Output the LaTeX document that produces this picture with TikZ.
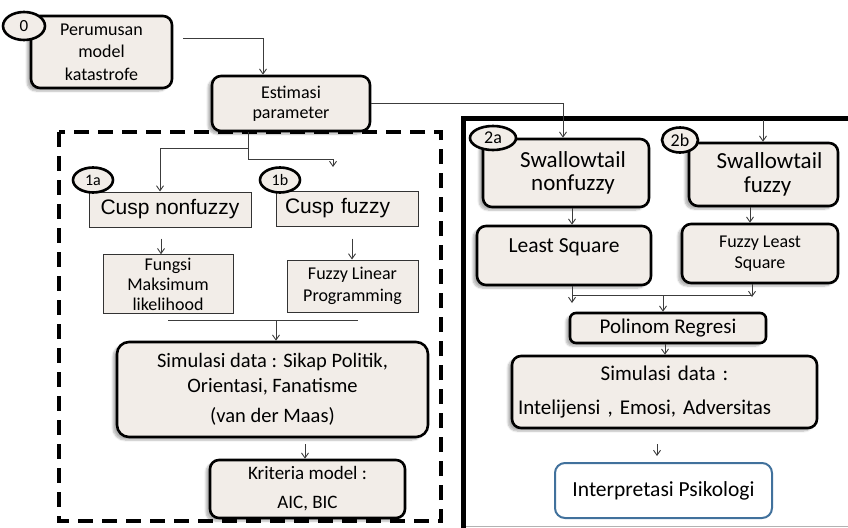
\documentclass[tikz,border=0pt]{standalone}
\usepackage{fontspec}
\setmainfont{Carlito}
\newfontfamily\arialfont{Liberation Sans}
\usetikzlibrary{arrows.meta,shapes.geometric,shadows.blur}
\definecolor{krem}{RGB}{242,237,232}
\definecolor{birupsi}{RGB}{65,113,156}
\definecolor{garis}{RGB}{60,60,60}
\tikzset{
  kotak/.style={draw=black,line width=2.6pt,rounded corners=9pt,fill=krem,align=center,inner sep=3pt,
    blur shadow={shadow xshift=-4pt,shadow yshift=-3pt,shadow opacity=30,shadow blur steps=6}},
  kotaktipis/.style={draw=black!80,line width=1pt,fill=krem,align=center,inner sep=3pt},
  nomor/.style={ellipse,draw=black,line width=2.6pt,fill=krem,inner sep=0pt},
  panah/.style={draw=garis,line width=0.9pt,-{Straight Barb[length=5pt,width=7pt]}},
  garisbiasa/.style={draw=garis,line width=0.9pt}
}
\begin{document}
\begin{tikzpicture}[x=1pt,y=-1pt]
\useasboundingbox (0,0) rectangle (848,527);
\draw[line width=4.5pt,dash pattern=on 15pt off 9pt] (59,132) rectangle (441,521);
\draw[line width=5pt] (463,532) -- (463,118) -- (854,118);
\draw[black!30,line width=0.6pt] (466,526) -- (848,526);

\node[kotak,minimum width=141pt,minimum height=72pt,font=\fontsize{18}{22.5}\selectfont] (perumusan) at (101.5,52) {Perumusan\\model\\katastrofe};
\node[kotak,minimum width=158pt,minimum height=55pt,font=\fontsize{18}{20.5}\selectfont] (estimasi) at (291,103.5) {Estimasi\\parameter};

\node[kotaktipis,minimum width=162pt,minimum height=35pt,font=\arialfont\fontsize{21}{24}\selectfont] (cuspnf) at (170,209.5) {Cusp nonfuzzy};
\node[kotaktipis,text width=124pt,inner xsep=9pt,align=left,minimum height=35pt,font=\arialfont\fontsize{21}{24}\selectfont] (cuspf) at (347,208.5) {Cusp fuzzy};
\node[kotaktipis,minimum width=130pt,minimum height=58pt,font=\fontsize{18}{20}\selectfont] (fungsi) at (168,284) {Fungsi\\Maksimum\\likelihood};
\node[kotaktipis,minimum width=131pt,minimum height=52pt,font=\fontsize{18}{22}\selectfont] (fuzzylp) at (352.5,286) {Fuzzy Linear\\Programming};
\node[kotak,rounded corners=12pt,minimum width=311pt,minimum height=95pt,font=\fontsize{20.5}{25}\selectfont] (simkiri) at (272.5,389.5) {Simulasi data : Sikap Politik,\\Orientasi, Fanatisme\\[5pt](van der Maas)};
\node[kotak,minimum width=195pt,minimum height=58pt,font=\fontsize{19}{29}\selectfont] (kriteria) at (307.5,489) {Kriteria model :\\AIC, BIC};

\node[kotak,minimum width=166pt,minimum height=68pt,font=\fontsize{23}{23.5}\selectfont] (swnf) at (566,173) {\hspace*{14pt}Swallowtail\\\hspace*{14pt}nonfuzzy};
\node[kotak,minimum width=149pt,minimum height=63pt,font=\fontsize{23}{23.5}\selectfont] (swf) at (763.5,174.5) {\hspace*{12pt}Swallowtail\\\hspace*{8pt}fuzzy};
\node[kotak,minimum width=174pt,minimum height=59pt,text depth=19pt,font=\fontsize{21.5}{24}\selectfont] (lsq) at (564,255.5) {Least Square};
\node[kotak,minimum width=156pt,minimum height=59pt,font=\fontsize{18}{21}\selectfont] (flsq) at (760,253.5) {Fuzzy Least\\Square};
\node[kotak,rounded corners=6pt,minimum width=196pt,minimum height=30pt,font=\fontsize{21}{24}\selectfont] (polinom) at (668,328) {Polinom Regresi};
\node[kotak,text width=293pt,inner xsep=6pt,align=left,minimum height=72pt,font=\fontsize{21}{34}\selectfont] (simkanan) at (664.5,392) {\makebox[293pt][c]{Simulasi data :}\\Intelijensi , Emosi, Adversitas};
\node[draw=birupsi,line width=2pt,rounded corners=10pt,fill=white,minimum width=217pt,minimum height=55pt,font=\fontsize{21.5}{24}\selectfont] (interp) at (663.5,490.5) {Interpretasi Psikologi};

\node[nomor,minimum width=42pt,minimum height=28pt,font=\fontsize{17}{20}\selectfont] (no0) at (24,26) {0};
\node[nomor,minimum width=40pt,minimum height=25pt,font=\fontsize{16}{19}\selectfont] (no1a) at (93,180) {1a};
\node[nomor,minimum width=40pt,minimum height=25pt,font=\fontsize{16}{19}\selectfont] (no1b) at (280,180) {1b};
\node[nomor,minimum width=46pt,minimum height=24pt,font=\fontsize{18}{20}\selectfont] (no2a) at (493,138) {2a};
\node[nomor,minimum width=36pt,minimum height=25pt,font=\fontsize{18}{20}\selectfont] (no2b) at (680,140) {2b};

\coordinate (cabang) at ([xshift=-43pt]estimasi.south);
\coordinate (ujung1b) at (333,167);
\coordinate (temukiri) at (276,320);
\coordinate (atas2b) at (763,120);
\coordinate (temukanan) at (663,295);
\coordinate (ujungls) at (572,303);
\coordinate (ujungfls) at (752,297);

\draw[panah,shorten <=10pt] ([yshift=14pt]perumusan.east) -| ([xshift=-28pt]estimasi.north);
\draw[panah] (estimasi.east) -| ([xshift=-3pt]swnf.north);
\draw[panah] (cabang) -- ++(0,16) -| ([xshift=-10pt]cuspnf.north);
\draw[panah] (cabang) -- ++(0,27) -| (ujung1b);
\draw[panah,shorten <=11pt] ([xshift=-9pt]cuspnf.south) -- ([xshift=-9pt]cuspnf.south |- fungsi.north);
\draw[panah,shorten <=12pt] ([xshift=5pt]cuspf.south) -- ([xshift=5pt]cuspf.south |- fuzzylp.north);
\draw[garisbiasa] (fungsi.south |- temukiri) -- ([xshift=5pt]fuzzylp.south |- temukiri);
\draw[panah] (temukiri) -- (temukiri |- simkiri.north);
\draw[panah,shorten <=6pt] ([xshift=-2.5pt]kriteria.north |- simkiri.south) -- ([xshift=-2.5pt]kriteria.north);

\draw[panah] (atas2b) -- (atas2b |- swf.north);
\draw[panah] ([xshift=6pt]swnf.south) -- ([xshift=6pt]swnf.south |- lsq.north);
\draw[panah] ([xshift=-13.5pt]swf.south) -- ([xshift=-13.5pt]swf.south |- flsq.north);
\draw[panah] (lsq.south -| ujungls) -- (ujungls);
\draw[panah] (flsq.south -| ujungfls) -- (ujungfls);
\draw[garisbiasa] (temukanan -| ujungls) -- (temukanan -| ujungfls);
\draw[panah] (temukanan) -- (temukanan |- polinom.north);
\draw[panah] ([xshift=-3pt]polinom.south) -- ([xshift=-3pt]polinom.south |- simkanan.north);
\draw[panah,shorten <=15pt,shorten >=6pt] ([xshift=-6.5pt]interp.north |- simkanan.south) -- ([xshift=-6.5pt]interp.north);
\end{tikzpicture}
\end{document}
